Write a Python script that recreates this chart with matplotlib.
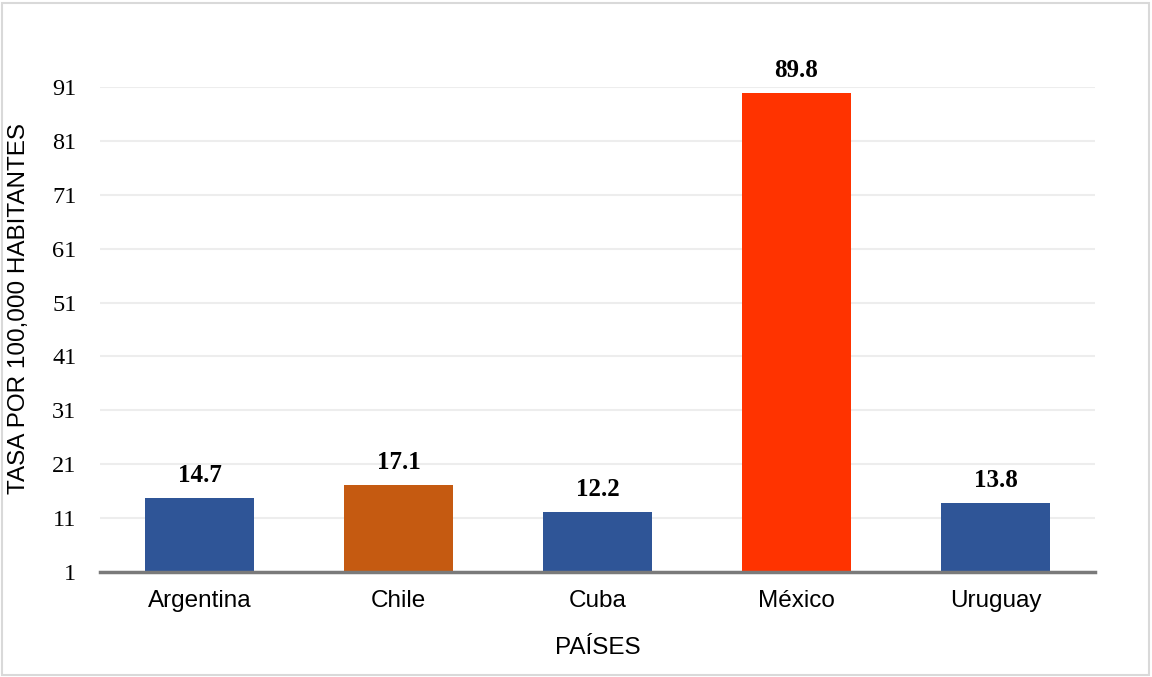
import matplotlib
matplotlib.use("Agg")
import matplotlib.pyplot as plt
from matplotlib.patches import Rectangle

paises = ["Argentina", "Chile", "Cuba", "México", "Uruguay"]
tasas = [14.7, 17.1, 12.2, 89.8, 13.8]
colores = ["#2F5597", "#C55A11", "#2F5597", "#FF3300", "#2F5597"]
marcas_y = [1, 11, 21, 31, 41, 51, 61, 71, 81, 91]

SANS = "Liberation Sans"
SERIF = "Liberation Serif"

fig = plt.figure(figsize=(11.52, 6.77), dpi=100)
ax = fig.add_axes([100 / 1152, 1 - 572 / 677, 995 / 1152, 485 / 677])

base = marcas_y[0]
x = range(len(paises))
alturas = [t - base for t in tasas]
barras = ax.bar(x, alturas, bottom=base, width=0.55, color=colores, zorder=3)

for b, t in zip(barras, tasas):
    ax.annotate(f"{t:.1f}", (b.get_x() + b.get_width() / 2, b.get_y() + b.get_height()),
                xytext=(0, 8), textcoords="offset points", ha="center", va="bottom",
                fontsize=18, fontweight="bold", family=SERIF)

ax.set_xlim(-0.5, len(paises) - 0.5)
ax.set_ylim(marcas_y[0], marcas_y[-1])
ax.set_yticks(marcas_y)
ax.set_xticks(list(x))
ax.set_xticklabels(paises, fontsize=17.5, family=SANS)
for lbl in ax.get_yticklabels():
    lbl.set_fontsize(17.5)
    lbl.set_family(SERIF)

ax.tick_params(axis="both", length=0)
ax.tick_params(axis="x", pad=13)
ax.tick_params(axis="y", pad=17)
ax.grid(axis="y", color="#EDEDED", linewidth=1.5, zorder=0)

for s in ["top", "right", "left"]:
    ax.spines[s].set_visible(False)
ax.spines["bottom"].set_color("#7A7A7A")
ax.spines["bottom"].set_linewidth(2.5)
ax.spines["bottom"].set_zorder(4)

ax.set_xlabel("PAÍSES", fontsize=17.5, family=SANS, labelpad=18)
ax.set_ylabel("TASA POR 100,000 HABITANTES", fontsize=17.5, family=SANS)
ax.yaxis.set_label_coords(-70 / 995, 0.543)

fig.patches.append(Rectangle((2 / 1152, 2 / 677), 1147 / 1152, 672 / 677,
                             transform=fig.transFigure, fill=False,
                             edgecolor="#D9D9D9", linewidth=1.5))

fig.savefig("out.png", dpi=100)
